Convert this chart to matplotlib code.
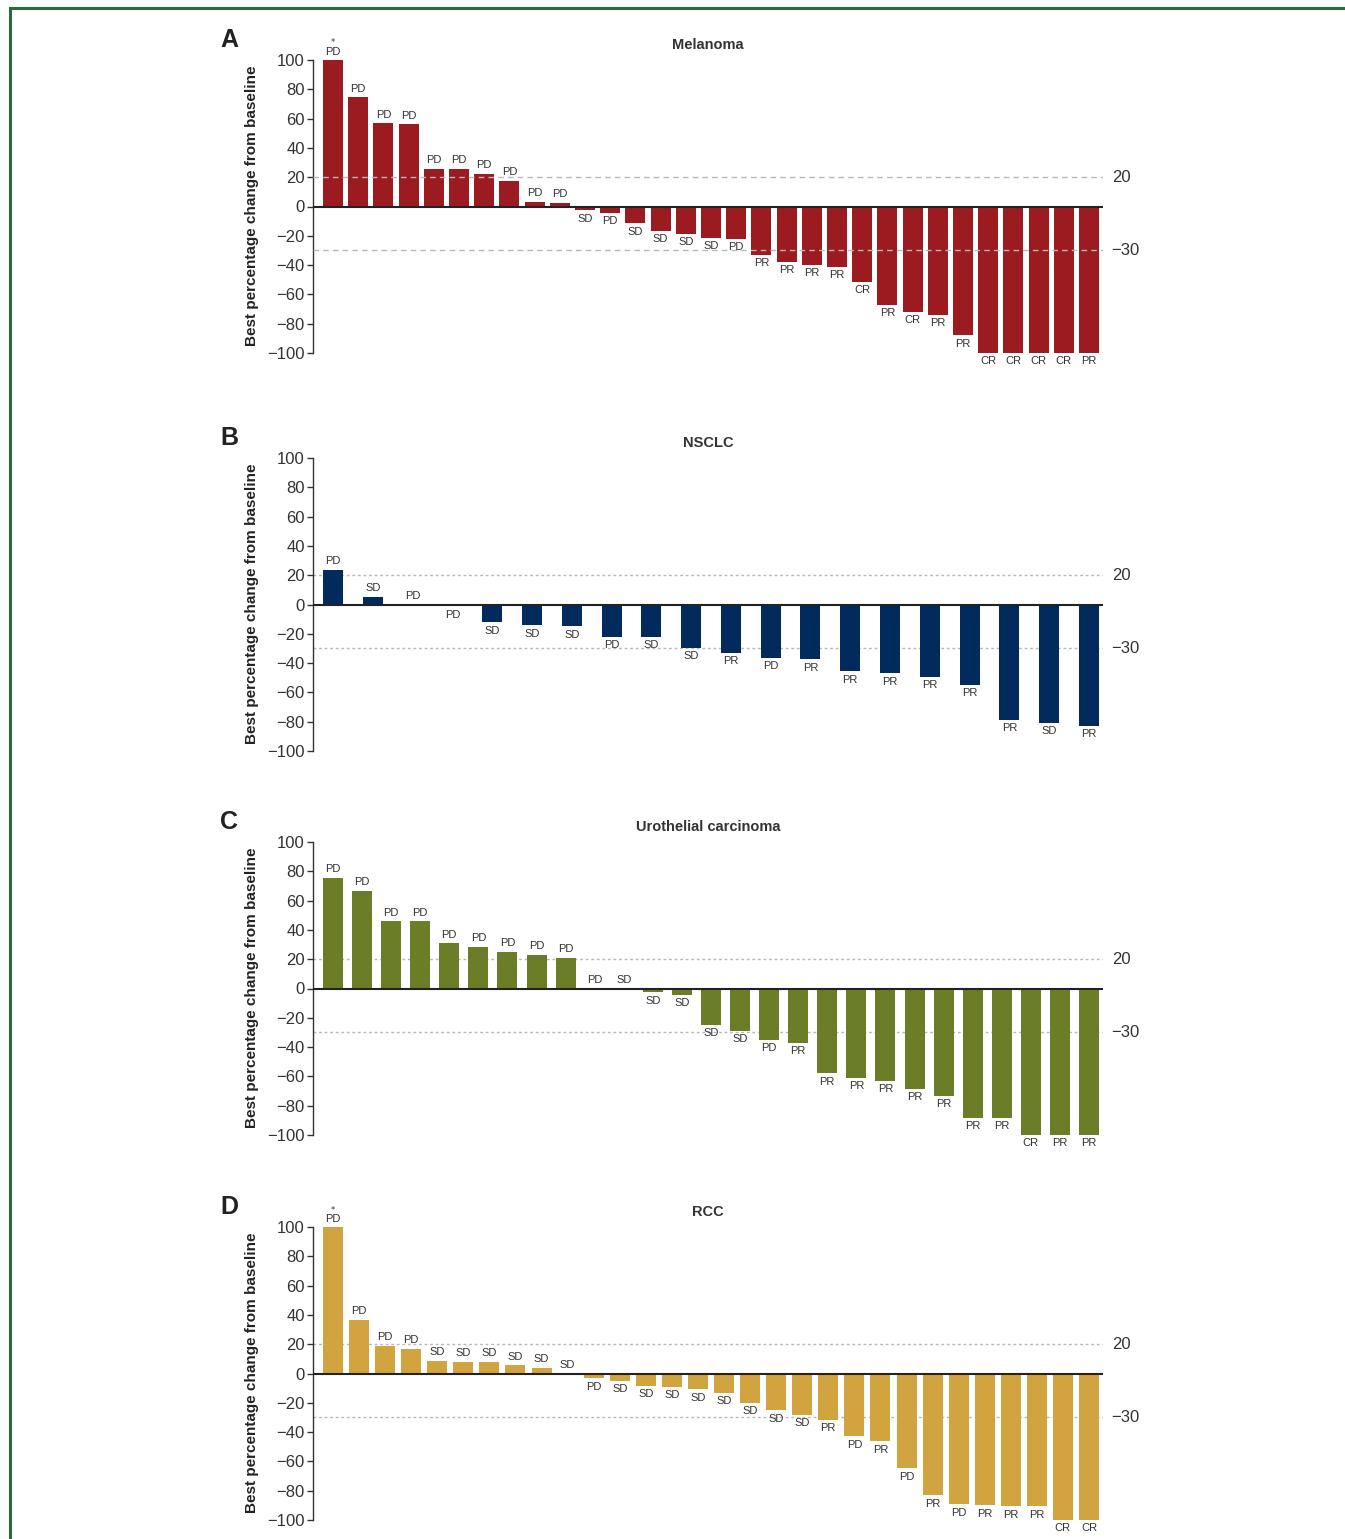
import matplotlib
matplotlib.use("Agg")
import matplotlib.pyplot as plt
from matplotlib import font_manager
from matplotlib.lines import Line2D
from matplotlib.transforms import blended_transform_factory

# best % change from baseline per patient, sorted, with best overall response
mel_change = [100, 74.5, 57, 56, 25.7, 25.7, 22.3, 17.5, 3.2, 2.5,
              -2.7, -4.1, -11.6, -16.5, -18.6, -21.4, -22, -33, -37.7, -39.8,
              -41, -51.4, -67, -71.8, -73.9, -88, -100, -100, -100, -100, -100]
mel_resp = ["PD", "PD", "PD", "PD", "PD", "PD", "PD", "PD", "PD", "PD",
            "SD", "PD", "SD", "SD", "SD", "SD", "PD", "PR", "PR", "PR",
            "PR", "CR", "PR", "CR", "PR", "PR", "CR", "CR", "CR", "CR", "PR"]

nsclc_change = [23.8, 5.4, 0, -1.1, -12, -14.3, -15, -22.2, -22.2, -29.7,
                -33, -36.5, -37.4, -45.6, -46.9, -49.4, -54.9, -78.7, -80.7, -82.8]
nsclc_resp = ["PD", "SD", "PD", "PD", "SD", "SD", "SD", "PD", "SD", "SD",
              "PR", "PD", "PR", "PR", "PR", "PR", "PR", "PR", "SD", "PR"]

uc_change = [75.5, 66.6, 46, 46, 31, 28.4, 25, 23, 21, 0, 0,
             -2.7, -4.3, -24.8, -28.9, -35, -37, -58, -60.9, -63, -68.4,
             -73.2, -88.2, -88.2, -100, -100, -100]
uc_resp = ["PD", "PD", "PD", "PD", "PD", "PD", "PD", "PD", "PD", "PD", "SD",
           "SD", "SD", "SD", "SD", "PD", "PR", "PR", "PR", "PR", "PR",
           "PR", "PR", "PR", "CR", "PR", "PR"]

rcc_change = [100, 36.6, 18.9, 16.8, 8.6, 8, 8, 5.5, 3.9, 0,
              -3.4, -4.8, -8.2, -8.9, -10.9, -13, -19.8, -25.2, -28, -31.4,
              -43, -46.4, -64.8, -83.2, -89.3, -90, -90.7, -90.7, -100, -100]
rcc_resp = ["PD", "PD", "PD", "PD", "SD", "SD", "SD", "SD", "SD", "SD",
            "PD", "SD", "SD", "SD", "SD", "SD", "SD", "SD", "SD", "PR",
            "PD", "PR", "PD", "PR", "PD", "PR", "PR", "PR", "CR", "CR"]

panels = [
    ("A", "Melanoma", mel_change, mel_resp, "#9b1b20", 60, [0]),
    ("B", "NSCLC", nsclc_change, nsclc_resp, "#002b5c", 458, []),
    ("C", "Urothelial carcinoma", uc_change, uc_resp, "#6b7d26", 842, []),
    ("D", "RCC", rcc_change, rcc_resp, "#d2a43f", 1227, [0]),
]
thresholds = [20, -30]

W, H = 1345, 1539
installed = {f.name for f in font_manager.fontManager.ttflist}
sans = ["Liberation Sans", "DejaVu Sans"]
narrow = ["Liberation Sans Narrow"] + sans if "Liberation Sans Narrow" in installed else sans
txt = "#333333"

fig = plt.figure(figsize=(W / 100, H / 100), dpi=100)

# green frame along the top and left edge
fig.add_artist(Line2D([10 / W, 1.0], [1 - 8 / H, 1 - 8 / H], color="#2b6a3e", lw=2.2))
fig.add_artist(Line2D([10 / W, 10 / W], [0, 1 - 8 / H], color="#2b6a3e", lw=2.2))

ax_left, ax_right = 313, 1103
for letter, title, vals, resp, color, top, stars in panels:
    bottom = top + 293
    ax = fig.add_axes([ax_left / W, 1 - bottom / H, (ax_right - ax_left) / W, 293 / H])
    n = len(vals)
    step = (ax_right - ax_left - 34) / (n - 1)
    x = list(range(n))
    ax.bar(x, vals, width=20 / step, color=color, clip_on=False, zorder=2)
    ax.set_xlim(-20 / step, n - 1 + 14 / step)
    ax.set_ylim(-100, 100)

    ax.axhline(0, color="#222222", lw=1.5, zorder=3)
    dash = (4, 3) if letter == "A" else (2, 2)
    for t in thresholds:
        ax.axhline(t, color="#b8b8b8", lw=1.0, dashes=dash, zorder=1 if letter != "A" else 3)

    trans = blended_transform_factory(ax.transAxes, ax.transData)
    for t in thresholds:
        ax.text(1.011, t, f"{t}".replace("-", "\u2212"), transform=trans,
                ha="left", va="center", fontsize=12, color=txt, family=narrow)

    for i, (v, r) in enumerate(zip(vals, resp)):
        if v >= 0:
            ax.annotate(r, (i, v), xytext=(0, 2.5), textcoords="offset points",
                        ha="center", va="bottom", fontsize=8, color=txt, family=narrow)
            if i in stars:
                ax.annotate("*", (i, v), xytext=(0, 9), textcoords="offset points",
                            ha="center", va="bottom", fontsize=6, color=txt)
        else:
            ax.annotate(r, (i, v), xytext=(0, -2.5), textcoords="offset points",
                        ha="center", va="top", fontsize=8, color=txt, family=narrow)

    for s in ["top", "right", "bottom"]:
        ax.spines[s].set_visible(False)
    ax.spines["left"].set_color("#333333")
    ax.spines["left"].set_linewidth(1.0)
    ax.set_xticks([])
    ax.set_yticks(range(-100, 101, 20))
    ax.tick_params(axis="y", direction="out", length=4, width=1, color="#333333",
                   pad=2, labelsize=12, labelcolor=txt)
    for lab in ax.get_yticklabels():
        lab.set_family(narrow)

    ax.set_title(title, fontsize=10.5, fontweight="bold", color=txt, pad=8, family=narrow)
    fig.text(229 / W, 1 - (top - 20) / H, letter, fontsize=18, fontweight="bold",
             color="#222222", ha="center", va="center", family=sans)
    fig.text(252 / W, 1 - (top + 146) / H, "Best percentage change from baseline",
             rotation=90, fontsize=11, fontweight="bold", color="#222222",
             ha="center", va="center", family=sans)

fig.savefig("out.png", dpi=100)
